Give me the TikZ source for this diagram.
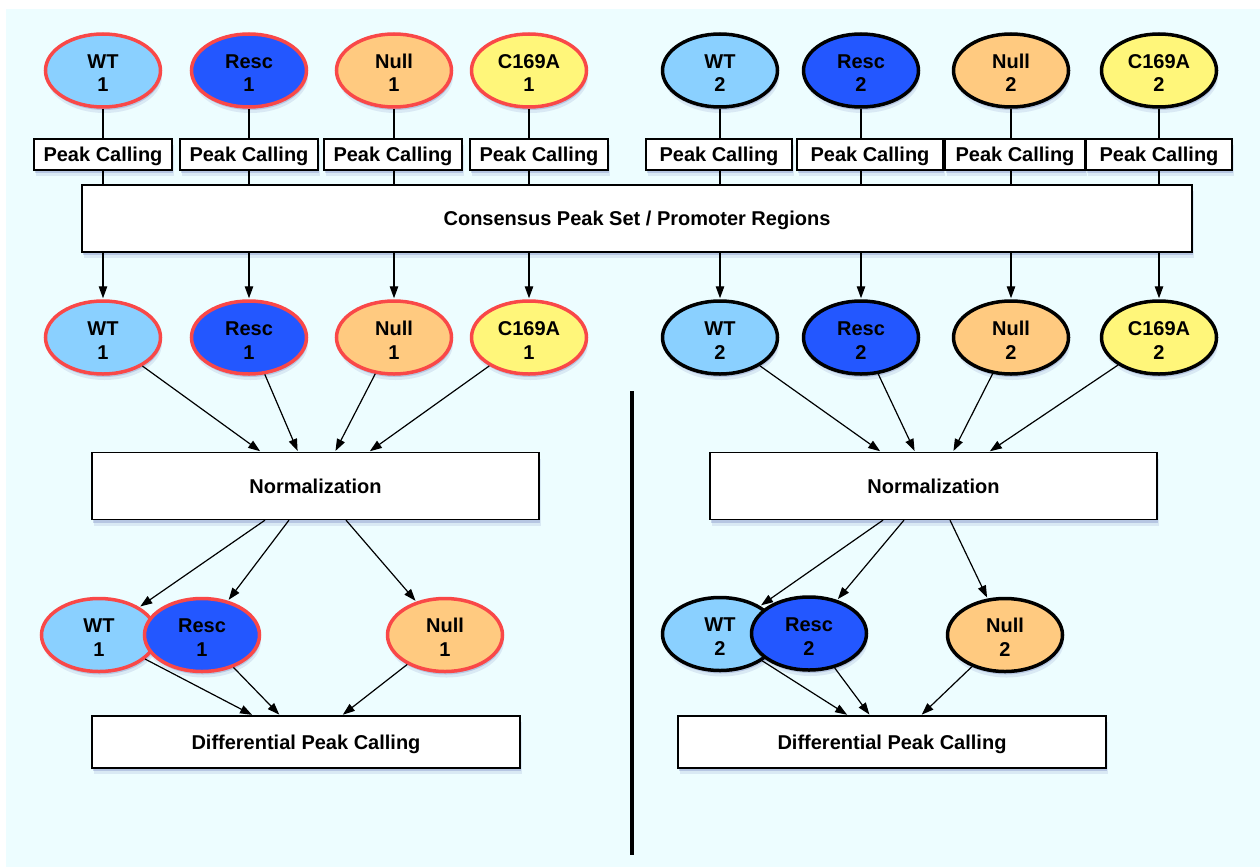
\documentclass[tikz,border=0pt]{standalone}
\usepackage{fontspec}
\setmainfont{Liberation Sans}
\usetikzlibrary{shapes.geometric,arrows.meta,shadows,calc}
\definecolor{bgcyan}{HTML}{EDFDFF}
\definecolor{wtc}{HTML}{8AD0FF}
\definecolor{rescc}{HTML}{2357FF}
\definecolor{nullc}{HTML}{FFCA80}
\definecolor{cc}{HTML}{FFF67A}
\definecolor{redb}{HTML}{F94848}
\definecolor{shadc}{HTML}{2A3A9A}
\begin{document}
\begin{tikzpicture}[x=1pt,y=-1pt,
 lbl/.style={font=\fontsize{20}{24}\selectfont\bfseries, text=black},
 shad/.style={drop shadow={shadow xshift=1.5pt,shadow yshift=-6pt,opacity=0.10,fill=shadc},
              drop shadow={shadow xshift=1pt,shadow yshift=-3pt,opacity=0.20,fill=shadc}},
 ell/.style={ellipse, lbl, shad, align=center, inner sep=0pt, minimum width=115pt, minimum height=73pt, line width=3.5pt, text height=43pt, text depth=0pt},
 grpa/.style={ell, draw=redb},
 grpb/.style={ell, draw=black},
 box/.style={rectangle, lbl, shad, draw=black, fill=white, line width=1.3pt, inner sep=0pt, text height=14pt, text depth=-3pt},
 pcbox/.style={box, minimum height=31pt},
 conn/.style={line width=1.2pt, draw=black},
 arr/.style={conn, -{Stealth[length=12pt,width=8.5pt,inset=0pt]}, shorten >=1pt},
]
\fill[white] (0,0) rectangle (1260,867);
\fill[bgcyan] (6,9) rectangle (1260,867);
\useasboundingbox (0,0) rectangle (1260,867);

% top row
\node[grpa, fill=wtc]   (a1) at (103,70.5) {WT\\1};
\node[grpa, fill=rescc] (a2) at (249,70.5) {Resc\\1};
\node[grpa, fill=nullc] (a3) at (394,70.5) {Null\\1};
\node[grpa, fill=cc]    (a4) at (529,70.5) {C169A\\1};
\node[grpb, fill=wtc]   (b1) at (720,70.5) {WT\\2};
\node[grpb, fill=rescc] (b2) at (861,70.5) {Resc\\2};
\node[grpb, fill=nullc] (b3) at (1011,70.5) {Null\\2};
\node[grpb, fill=cc]    (b4) at (1159,70.5) {C169A\\2};

% peak calling
\node[pcbox, minimum width=138pt] (pa1) at (103,154.5) {Peak Calling};
\node[pcbox, minimum width=138pt] (pa2) at (249,154.5) {Peak Calling};
\node[pcbox, minimum width=138pt] (pa3) at (393,154.5) {Peak Calling};
\node[pcbox, minimum width=138pt] (pa4) at (539,154.5) {Peak Calling};
\node[pcbox, minimum width=146pt] (pb1) at (719,154.5) {Peak Calling};
\node[pcbox, minimum width=146pt] (pb2) at (870,154.5) {Peak Calling};
\node[pcbox, minimum width=140pt] (pb3) at (1015,154.5) {Peak Calling};
\node[pcbox, minimum width=146pt] (pb4) at (1159,154.5) {Peak Calling};

% consensus
\node[box, minimum width=1110pt, minimum height=67pt] (cons) at (637,218.5) {Consensus Peak Set / Promoter Regions};

% second row
\node[grpa, fill=wtc]   (c1) at (103,337.5) {WT\\1};
\node[grpa, fill=rescc] (c2) at (249,337.5) {Resc\\1};
\node[grpa, fill=nullc] (c3) at (394,337.5) {Null\\1};
\node[grpa, fill=cc]    (c4) at (529,337.5) {C169A\\1};
\node[grpb, fill=wtc]   (d1) at (720,337.5) {WT\\2};
\node[grpb, fill=rescc] (d2) at (861,337.5) {Resc\\2};
\node[grpb, fill=nullc] (d3) at (1011,337.5) {Null\\2};
\node[grpb, fill=cc]    (d4) at (1159,337.5) {C169A\\2};

% normalization
\node[box, minimum width=447pt, minimum height=67pt] (nL) at (315.5,486) {Normalization};
\node[box, minimum width=447pt, minimum height=67pt] (nR) at (933.5,486) {Normalization};

% third row
\node[grpa, fill=wtc]   (e1) at (99,635) {WT\\1};
\node[grpa, fill=rescc] (e2) at (202,635) {Resc\\1};
\node[grpa, fill=nullc] (e3) at (445,635) {Null\\1};
\node[grpb, fill=wtc]   (f1) at (720,634) {WT\\2};
\node[grpb, fill=rescc] (f2) at (809,633.5) {Resc\\2};
\node[grpb, fill=nullc] (f3) at (1005,635) {Null\\2};

% differential
\node[box, minimum width=428pt, minimum height=52pt] (gL) at (306,742) {Differential Peak Calling};
\node[box, minimum width=428pt, minimum height=52pt] (gR) at (892,742) {Differential Peak Calling};

% connectors: top to consensus
\foreach \i in {1,...,4} {
  \draw[conn] (a\i) -- (a\i |- pa\i.north);
  \draw[conn] (a\i |- pa\i.south) -- (a\i |- cons.north);
  \draw[conn] (b\i) -- (b\i |- pb\i.north);
  \draw[conn] (b\i |- pb\i.south) -- (b\i |- cons.north);
  \draw[arr] (c\i |- cons.south) -- (c\i);
  \draw[arr] (d\i |- cons.south) -- (d\i);
}

% row 2 to normalization
\draw[arr] (c1) -- ([xshift=-54.5pt]nL.north);
\draw[arr] (c2) -- ([xshift=-17.5pt]nL.north);
\draw[arr] (c3) -- ([xshift=19.5pt]nL.north);
\draw[arr] (c4) -- ([xshift=53.5pt]nL.north);
\draw[arr] (d1) -- ([xshift=-52.5pt]nR.north);
\draw[arr] (d2) -- ([xshift=-18.5pt]nR.north);
\draw[arr] (d3) -- ([xshift=19.5pt]nR.north);
\draw[arr] (d4) -- ([xshift=55.5pt]nR.north);

% normalization to row 3
\draw[arr] ([xshift=-50.5pt]nL.south) -- (e1);
\draw[arr] ([xshift=-26.5pt]nL.south) -- (e2);
\draw[arr] ([xshift=30.5pt]nL.south) -- (e3);
\draw[arr] ([xshift=-50.5pt]nR.south) -- (f1);
\draw[arr] ([xshift=-29.5pt]nR.south) -- (f2);
\draw[arr] ([xshift=16.5pt]nR.south) -- (f3);

% row 3 to differential
\draw[arr] (e1) -- ([xshift=-53pt]gL.north);
\draw[arr] (e2) -- ([xshift=-26pt]gL.north);
\draw[arr] (e3) -- ([xshift=36pt]gL.north);
\draw[arr] (f1) -- ([xshift=-44pt]gR.north);
\draw[arr] (f2) -- ([xshift=-22pt]gR.north);
\draw[arr] (f3) -- ([xshift=29pt]gR.north);

% divider
\draw[line width=3.5pt] (632,391) -- (632,855);
\end{tikzpicture}
\end{document}
